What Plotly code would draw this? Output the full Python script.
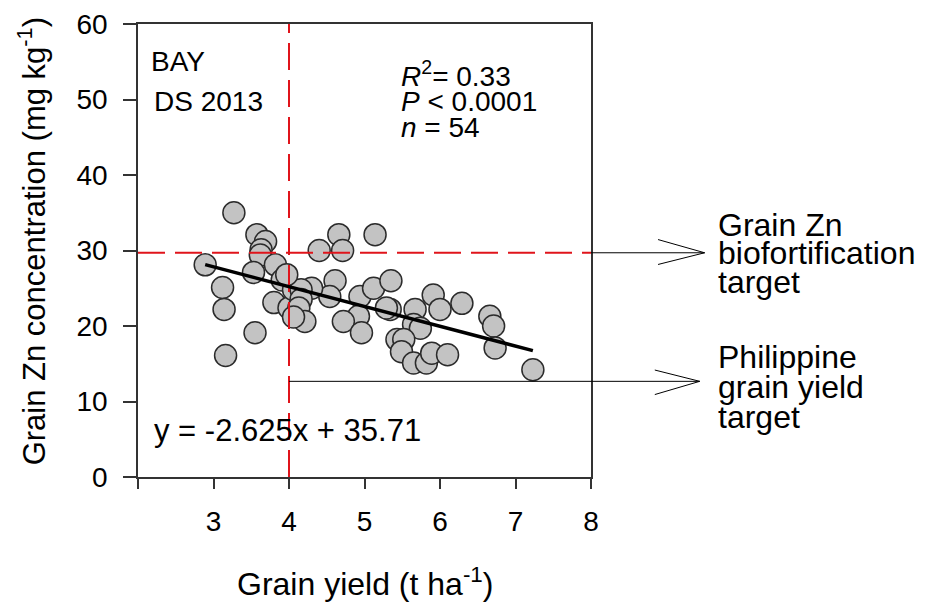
import plotly.graph_objects as go

# ---- data ----
grain_yield = [3.27, 3.575, 3.69, 3.63, 3.62, 2.89, 3.53, 3.82, 3.91, 3.12,
               3.14, 3.80, 3.55, 3.16, 4.00, 4.06, 4.66, 5.14, 4.40, 4.71,
               4.61, 4.54, 4.30, 4.16, 4.16, 4.13, 4.21, 4.06, 4.94, 5.12,
               4.92, 4.72, 4.96, 5.35, 5.91, 6.29, 6.00, 5.34, 5.67, 5.65,
               5.74, 5.43, 5.52, 5.49, 5.65, 5.82, 5.89, 6.10, 6.66, 6.71,
               6.73, 7.23, 3.97, 5.29]
grain_zn = [35.0, 32.1, 31.2, 30.1, 29.4, 28.1, 27.1, 28.1, 26.1, 25.1,
            22.2, 23.1, 19.1, 16.1, 22.4, 24.8, 32.1, 32.1, 30.0, 30.0,
            26.0, 23.9, 25.0, 24.8, 23.5, 22.4, 20.6, 21.2, 23.9, 25.0,
            21.3, 20.6, 19.1, 26.0, 24.1, 23.0, 22.2, 22.2, 22.2, 20.2,
            19.7, 18.2, 18.2, 16.6, 15.1, 15.1, 16.4, 16.2, 21.3, 20.0,
            17.1, 14.2, 26.8, 22.4]
slope = -2.625
intercept = 35.71
yield_target = 4.0
zn_target = 29.7
x_ticks = [2, 3, 4, 5, 6, 7, 8]
x_tick_labels = ["", "3", "4", "5", "6", "7", "8"]
y_ticks = [0, 10, 20, 30, 40, 50, 60]

FONT = "Liberation Sans, Arial, sans-serif"
RED = "#e0141b"

fit_x = [min(grain_yield), max(grain_yield)]
fit_y = [slope * v + intercept for v in fit_x]

fig = go.Figure()
fig.add_trace(go.Scatter(
    x=grain_yield, y=grain_zn, mode="markers",
    marker=dict(size=22, color="#c3c3c3", line=dict(color="#2b2b2b", width=1.5)),
    showlegend=False, hoverinfo="x+y"))
fig.add_trace(go.Scatter(
    x=[yield_target, yield_target], y=[y_ticks[0], y_ticks[-1]], mode="lines",
    line=dict(color=RED, width=2, dash="27px,10px"), showlegend=False))
fig.add_trace(go.Scatter(
    x=[x_ticks[0], x_ticks[-1]], y=[zn_target, zn_target], mode="lines",
    line=dict(color=RED, width=2, dash="27px,10px"), showlegend=False))
fig.add_trace(go.Scatter(
    x=fit_x, y=fit_y, mode="lines",
    line=dict(color="black", width=3.5), showlegend=False))

def xp(xd):
    return (xd - x_ticks[0]) / (x_ticks[-1] - x_ticks[0])

shapes = []
# upper arrow (from right axis to the label)
shapes.append(dict(type="line", xref="paper", yref="y", x0=1.0, x1=xp(9.505),
                   y0=zn_target, y1=zn_target, line=dict(color="black", width=1)))
shapes.append(dict(type="path", xref="paper", yref="y",
                   path=f"M{xp(8.888)},{zn_target+1.75} L{xp(9.505)},{zn_target} L{xp(8.888)},{zn_target-1.55}",
                   line=dict(color="black", width=1)))
# lower arrow (from the yield target line)
y_low = 12.67
shapes.append(dict(type="line", xref="paper", yref="y", x0=xp(yield_target), x1=xp(9.44),
                   y0=y_low, y1=y_low, line=dict(color="black", width=1)))
shapes.append(dict(type="path", xref="paper", yref="y",
                   path=f"M{xp(8.845)},{y_low+1.5} L{xp(9.44)},{y_low} L{xp(8.845)},{y_low-1.75}",
                   line=dict(color="black", width=1)))

ann = []
def txt(x, y, s, size, xref="x", yref="y", xanchor="left", **kw):
    ann.append(dict(x=x, y=y, xref=xref, yref=yref, text=s, showarrow=False,
                    xanchor=xanchor, yanchor="middle",
                    font=dict(family=FONT, size=size, color="black"), **kw))

txt(2.14, 55.1, "BAY", 28)
txt(2.18, 49.7, "DS 2013", 28)
txt(5.46, 53.4, "<i>R</i><sup>2</sup>= 0.33", 28)
txt(5.46, 49.8, "<i>P</i> &lt; 0.0001", 28)
txt(5.46, 46.3, "<i>n</i> = 54", 28)
txt(2.18, 6.1, "y = -2.625x + 35.71", 31)

xr = xp(9.66)
txt(xr, 33.4, "Grain Zn", 32, xref="paper")
txt(xr, 29.7, "biofortification", 32, xref="paper")
txt(xr, 25.8, "target", 32, xref="paper")
txt(xr, 15.9, "Philippine", 32, xref="paper")
txt(xr, 11.9, "grain yield", 32, xref="paper")
txt(xr, 8.0, "target", 32, xref="paper")

# axis titles
txt(0.5, -0.232, "Grain yield (t ha<sup>-1</sup>)", 32, xref="paper", yref="paper", xanchor="center")
ann.append(dict(x=-0.232, y=0.52, xref="paper", yref="paper", showarrow=False,
                text="Grain Zn concentration (mg kg<sup>-1</sup>)", textangle=-90,
                xanchor="center", yanchor="middle",
                font=dict(family=FONT, size=31, color="black")))

axis_common = dict(showline=True, linecolor="#333333", linewidth=1.5, mirror=True,
                   ticks="outside", tickcolor="#333333", tickwidth=1.5,
                   showgrid=False, zeroline=False, automargin=False,
                   tickfont=dict(family=FONT, size=28, color="black"))

# the page body adds an 8px offset, so the figure is 8px smaller and shifted
fig.update_layout(
    width=918, height=601,
    margin=dict(l=130, r=335, t=16, b=132, autoexpand=False),
    paper_bgcolor="white", plot_bgcolor="white",
    xaxis=dict(range=[x_ticks[0], x_ticks[-1]], tickvals=x_ticks, ticktext=x_tick_labels,
               ticklen=10, ticklabelstandoff=9, **axis_common),
    yaxis=dict(range=[y_ticks[0], y_ticks[-1]], tickvals=y_ticks,
               ticklen=13, ticklabelstandoff=10, **axis_common),
    shapes=shapes, annotations=ann,
    font=dict(family=FONT),
)

fig.write_html("out.html")
